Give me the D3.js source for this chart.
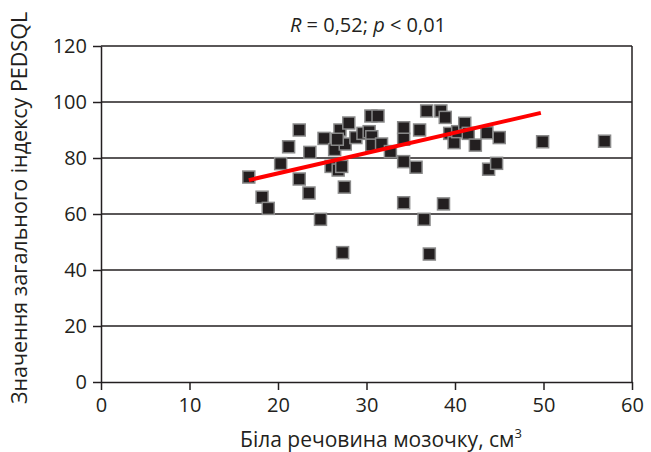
<html>
<script src="https://d3js.org/d3.v7.min.js"></script>
<body style="margin:0;background:#fff">
<svg width="651" height="452"></svg>
<script>
// white matter volume (cm3) vs PEDSQL total score
var whiteMatter = [16.7, 18.2, 18.9, 20.3, 21.2, 22.4, 22.4, 23.6, 23.5, 24.8,
    25.2, 26.0, 26.4, 26.8, 27.0, 27.2, 27.5, 27.3, 27.6, 28.0,
    28.8, 26.7, 29.6, 30.3, 30.6, 30.6, 30.5, 31.3, 31.7, 32.7,
    34.2, 34.2, 34.2, 34.2, 35.6, 36.0, 36.5, 36.8, 37.1, 38.4,
    38.9, 38.7, 39.4, 39.9, 40.3, 41.1, 41.5, 42.3, 43.6, 43.8,
    44.7, 45.0, 49.9, 56.9];
var pedsql = [73.2, 66, 62, 78, 84, 90, 72.5, 82, 67.5, 58.1,
    87, 77, 83, 75.7, 90, 77, 69.6, 46.2, 85, 92.5,
    87.3, 86.7, 88.8, 89.4, 87.6, 84.6, 95, 95, 85, 82.3,
    90.8, 86.7, 78.7, 64, 76.7, 90, 58.1, 96.8, 45.7, 96.8,
    94.5, 63.6, 88.8, 85.5, 89.4, 92.4, 88.8, 84.6, 89, 76,
    78.1, 87.3, 85.8, 86];
// trend line ends
var fitX = [16.7, 49.7];
var fitY = [72.1, 96.1];
var xTicks = [0, 10, 20, 30, 40, 50, 60];
var yTicks = [0, 20, 40, 60, 80, 100, 120];

var font = "'Open Sans', sans-serif";
var ink = "#231f20";
var svg = d3.select("svg");

var x = d3.scaleLinear().domain([0, 60]).range([101, 632]);
var y = d3.scaleLinear().domain([0, 120]).range([382, 46]);

// grid lines
svg.append("g").selectAll("line")
    .data(yTicks.slice(1))
    .enter().append("line")
    .attr("x1", x(0)).attr("x2", x(60))
    .attr("y1", function(d) { return y(d); })
    .attr("y2", function(d) { return y(d); })
    .attr("stroke", ink).attr("stroke-width", 1.5);

svg.append("line")
    .attr("x1", x(60)).attr("x2", x(60))
    .attr("y1", y(0)).attr("y2", y(120))
    .attr("stroke", ink).attr("stroke-width", 1.5);

var ax = svg.append("g")
    .attr("transform", "translate(0," + y(0) + ")")
    .call(d3.axisBottom(x).tickValues(xTicks).tickSize(8).tickSizeOuter(0).tickPadding(8));
var ay = svg.append("g")
    .attr("transform", "translate(" + x(0) + ",0)")
    .call(d3.axisLeft(y).tickValues(yTicks).tickSize(8).tickSizeOuter(0).tickPadding(6));

[ax, ay].forEach(function(g) {
    g.select(".domain").attr("stroke", ink).attr("stroke-width", 1.5);
    g.selectAll(".tick line").attr("stroke", ink).attr("stroke-width", 1.5);
    g.selectAll(".tick text").attr("fill", ink)
        .style("font-family", font).style("font-size", "20px");
});

// points
var s = 12;
svg.append("g").selectAll("rect")
    .data(whiteMatter)
    .enter().append("rect")
    .attr("x", function(d) { return x(d) - s / 2; })
    .attr("y", function(d, i) { return y(pedsql[i]) - s / 2; })
    .attr("width", s).attr("height", s)
    .attr("fill", ink)
    .attr("stroke", "#8a8a8a").attr("stroke-width", 1.5);

svg.append("line")
    .attr("x1", x(fitX[0])).attr("y1", y(fitY[0]))
    .attr("x2", x(fitX[1])).attr("y2", y(fitY[1]))
    .attr("stroke", "#ff0000").attr("stroke-width", 4);

// title
var t = svg.append("text")
    .attr("x", 368).attr("y", 32)
    .attr("text-anchor", "middle")
    .style("font-family", font).style("font-size", "20px")
    .attr("fill", ink);
t.append("tspan").style("font-style", "italic").text("R");
t.append("tspan").text(" = 0,52; ");
t.append("tspan").style("font-style", "italic").text("p");
t.append("tspan").text(" < 0,01");

var xl = svg.append("text")
    .attr("x", 381).attr("y", 447)
    .attr("text-anchor", "middle")
    .style("font-family", font).style("font-size", "21px")
    .attr("fill", ink)
    .text("Біла речовина мозочку, см");
xl.append("tspan").attr("dy", -9).style("font-size", "13px").text("3");

svg.append("text")
    .attr("transform", "translate(27,208) rotate(-90)")
    .attr("text-anchor", "middle")
    .style("font-family", font).style("font-size", "21.5px")
    .attr("fill", ink)
    .text("Значення загального індексу PEDSQL");
</script>
</body>
</html>
